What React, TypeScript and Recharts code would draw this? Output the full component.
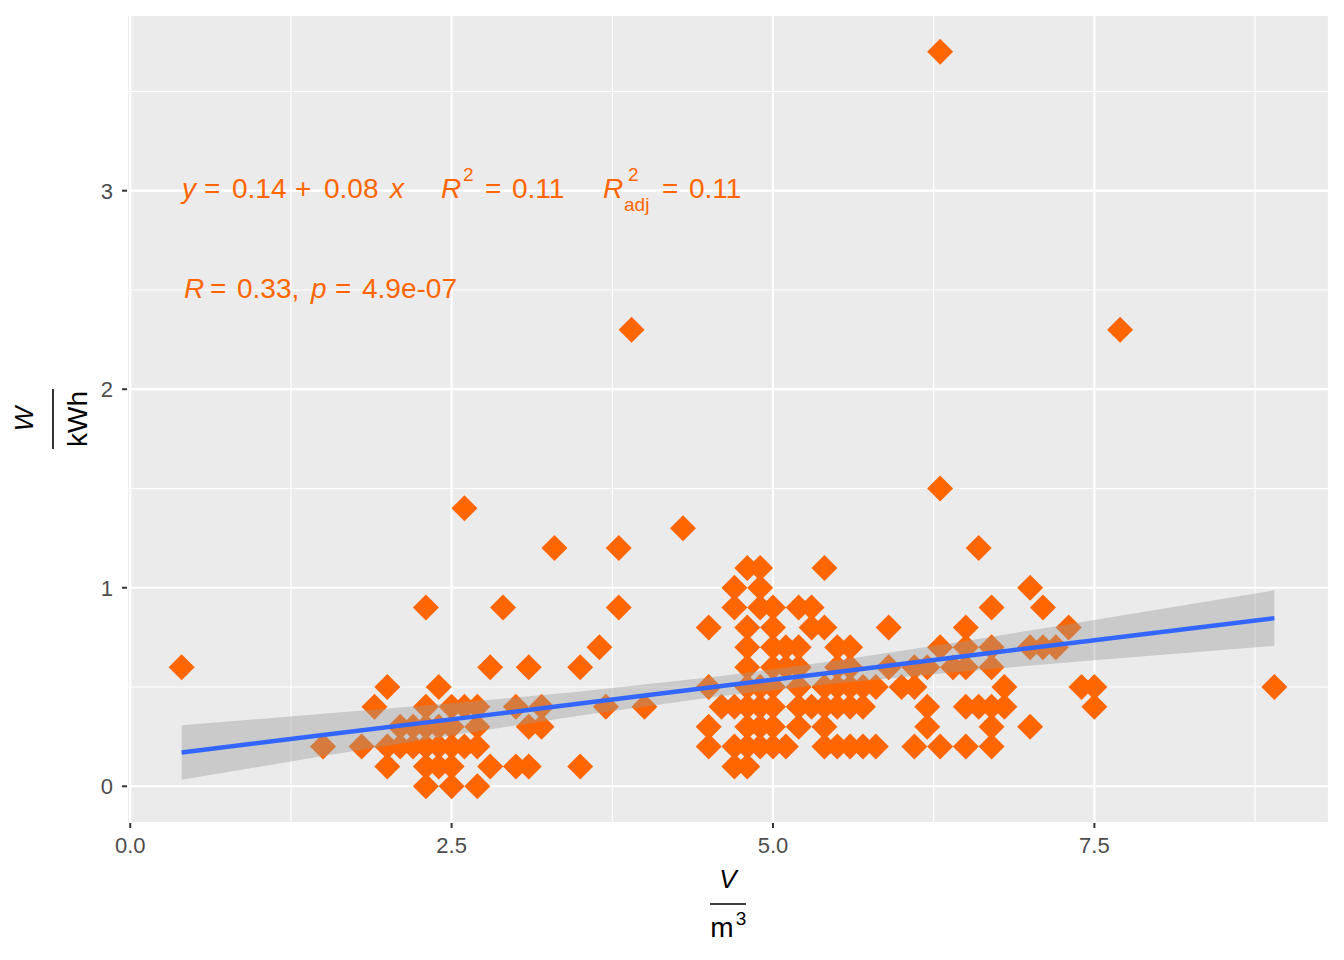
import React from "react";
import {
  ComposedChart,
  Scatter,
  Line,
  Area,
  XAxis,
  YAxis,
  CartesianGrid,
} from "recharts";

// volume (m3) and energy (kWh) readings, one pair per point
const volume = [
  0.4, 1.5, 1.8, 1.9, 2.0, 2.0, 2.0, 2.1, 2.1, 2.2, 2.2,
  2.3, 2.3, 2.3, 2.3, 2.3, 2.3, 2.4, 2.4, 2.4, 2.4,
  2.5, 2.5, 2.5, 2.5, 2.5, 2.6, 2.6, 2.6, 2.7, 2.7, 2.7, 2.7,
  2.8, 2.8, 2.9, 3.0, 3.0, 3.1, 3.1, 3.1, 3.2, 3.2, 3.3,
  3.5, 3.5, 3.65, 3.7, 3.8, 3.8, 3.9, 4.0, 4.3,
  4.5, 4.5, 4.5, 4.5, 4.6, 4.7, 4.7, 4.7, 4.7, 4.7,
  4.8, 4.8, 4.8, 4.8, 4.8, 4.8, 4.8, 4.8, 4.8,
  4.9, 4.9, 4.9, 4.9, 4.9, 4.9, 4.9,
  5.0, 5.0, 5.0, 5.0, 5.0, 5.0, 5.0, 5.0,
  5.1, 5.1, 5.1, 5.2, 5.2, 5.2, 5.2, 5.2, 5.2,
  5.3, 5.3, 5.3, 5.4, 5.4, 5.4, 5.4, 5.4, 5.4,
  5.5, 5.5, 5.5, 5.5, 5.5, 5.6, 5.6, 5.6, 5.6, 5.6,
  5.7, 5.7, 5.7, 5.8, 5.8, 5.9, 5.9, 6.0, 6.1, 6.1, 6.1,
  6.2, 6.2, 6.2, 6.3, 6.3, 6.3, 6.3, 6.4,
  6.5, 6.5, 6.5, 6.5, 6.5, 6.6, 6.6,
  6.7, 6.7, 6.7, 6.7, 6.7, 6.7, 6.8, 6.8,
  7.0, 7.0, 7.0, 7.1, 7.1, 7.2, 7.3, 7.4, 7.5, 7.5, 7.7, 8.9,
];
const energy = [
  0.6, 0.2, 0.2, 0.4, 0.5, 0.2, 0.1, 0.3, 0.2, 0.3, 0.2,
  0.9, 0.4, 0.3, 0.2, 0.1, 0.0, 0.5, 0.3, 0.2, 0.1,
  0.4, 0.3, 0.2, 0.1, 0.0, 1.4, 0.4, 0.2, 0.4, 0.3, 0.2, 0.0,
  0.6, 0.1, 0.9, 0.4, 0.1, 0.6, 0.3, 0.1, 0.4, 0.3, 1.2,
  0.6, 0.1, 0.7, 0.4, 1.2, 0.9, 2.3, 0.4, 1.3,
  0.8, 0.5, 0.3, 0.2, 0.4, 1.0, 0.9, 0.4, 0.2, 0.1,
  1.1, 0.8, 0.7, 0.6, 0.5, 0.4, 0.3, 0.2, 0.1,
  1.1, 1.0, 0.9, 0.5, 0.4, 0.3, 0.2,
  0.9, 0.8, 0.7, 0.6, 0.5, 0.4, 0.3, 0.2,
  0.7, 0.6, 0.2, 0.9, 0.7, 0.6, 0.5, 0.4, 0.3,
  0.9, 0.8, 0.4, 1.1, 0.8, 0.5, 0.4, 0.3, 0.2,
  0.7, 0.6, 0.5, 0.4, 0.2, 0.7, 0.6, 0.5, 0.4, 0.2,
  0.5, 0.4, 0.2, 0.5, 0.2, 0.8, 0.6, 0.5, 0.6, 0.5, 0.2,
  0.6, 0.4, 0.3, 3.7, 1.5, 0.7, 0.2, 0.6,
  0.8, 0.7, 0.6, 0.4, 0.2, 1.2, 0.4,
  0.9, 0.7, 0.6, 0.4, 0.3, 0.2, 0.5, 0.4,
  1.0, 0.7, 0.3, 0.9, 0.7, 0.7, 0.8, 0.5, 0.5, 0.4, 2.3, 0.5,
];

// lm fit and its 95% band
const fitX = [0.4, 1.5, 2.5, 3.5, 4.6, 5.5, 6.5, 7.5, 8.9];
const fitY = [0.17, 0.258, 0.337, 0.417, 0.505, 0.576, 0.656, 0.736, 0.847];
const fitLow = [0.033, 0.152, 0.256, 0.357, 0.455, 0.519, 0.58, 0.635, 0.707];
const fitHigh = [0.307, 0.365, 0.418, 0.477, 0.555, 0.633, 0.732, 0.837, 0.987];

const xTicks = [0, 2.5, 5, 7.5];
const yTicks = [0, 1, 2, 3];
const xMinor = [1.25, 3.75, 6.25, 8.75];
const yMinor = [0.5, 1.5, 2.5, 3.5];
const xDomain = [-0.025, 9.325];
const yDomain = [-0.185, 3.885];

const points = volume.map((x, i) => ({ x, y: energy[i] }));
const fitRows = fitX.map((x, i) => ({
  x,
  fit: fitY[i],
  band: [fitLow[i], fitHigh[i]],
}));

const font = "'Liberation Sans', Arial, Helvetica, sans-serif";
const orange = "#FF6600";

const Diamond = (props: any) => {
  const { cx, cy } = props;
  if (cx == null || cy == null) return null;
  const r = 13;
  return (
    <polygon
      points={`${cx},${cy - r} ${cx + r},${cy} ${cx},${cy + r} ${cx - r},${cy}`}
      fill={orange}
    />
  );
};

const minorX = ({ xAxis, offset }: any) =>
  xMinor.map((v) =>
    xAxis && typeof xAxis.scale === "function"
      ? xAxis.scale(v)
      : offset.left + ((v - xDomain[0]) / (xDomain[1] - xDomain[0])) * offset.width
  );

const minorY = ({ yAxis, offset }: any) =>
  yMinor.map((v) =>
    yAxis && typeof yAxis.scale === "function"
      ? yAxis.scale(v)
      : offset.top + ((yDomain[1] - v) / (yDomain[1] - yDomain[0])) * offset.height
  );

export default function App() {
  return (
    <div style={{ position: "absolute", left: 0, top: 0, width: 1344, height: 960, background: "#fff" }}>
      <ComposedChart
        width={1344}
        height={960}
        data={fitRows}
        margin={{ top: 15, right: 15, left: 0, bottom: 0 }}
      >
        <CartesianGrid
          fill="#EBEBEB"
          stroke="#FFFFFF"
          strokeWidth={1.1}
          verticalCoordinatesGenerator={minorX}
          horizontalCoordinatesGenerator={minorY}
        />
        <CartesianGrid stroke="#FFFFFF" strokeWidth={2.2} />
        <XAxis
          type="number"
          dataKey="x"
          domain={xDomain}
          allowDataOverflow
          ticks={xTicks}
          tickFormatter={(v) => v.toFixed(1)}
          height={137}
          axisLine={false}
          tickSize={5}
          tickMargin={9}
          tickLine={{ stroke: "#333333", strokeWidth: 2 }}
          tick={{ fill: "#4D4D4D", fontSize: 22, fontFamily: font }}
        />
        <YAxis
          type="number"
          dataKey="y"
          domain={yDomain}
          allowDataOverflow
          ticks={yTicks}
          width={127}
          axisLine={false}
          tickSize={5}
          tickMargin={9}
          tickLine={{ stroke: "#333333", strokeWidth: 2 }}
          tick={{ fill: "#4D4D4D", fontSize: 22, fontFamily: font }}
        />
        <Scatter data={points} dataKey="y" shape={<Diamond />} isAnimationActive={false} />
        <Area
          type="linear"
          dataKey="band"
          stroke="none"
          fill="#999999"
          fillOpacity={0.4}
          isAnimationActive={false}
          zIndex={650}
        />
        <Line
          type="linear"
          dataKey="fit"
          stroke="#3366FF"
          strokeWidth={4.5}
          dot={false}
          activeDot={false}
          isAnimationActive={false}
          zIndex={700}
        />
      </ComposedChart>

      <svg
        width={1344}
        height={960}
        style={{ position: "absolute", left: 0, top: 0, pointerEvents: "none" }}
        fontFamily={font}
      >
        {/* stats annotation */}
        <text y={198} fill={orange} fontSize={28}>
          <tspan x={182} fontStyle="italic">y</tspan>
          <tspan x={204}>=</tspan>
          <tspan x={232}>0.14</tspan>
          <tspan x={295}>+</tspan>
          <tspan x={324}>0.08</tspan>
          <tspan x={390} fontStyle="italic">x</tspan>
          <tspan x={441} fontStyle="italic">R</tspan>
          <tspan x={485}>=</tspan>
          <tspan x={512}>0.11</tspan>
          <tspan x={603} fontStyle="italic">R</tspan>
          <tspan x={662}>=</tspan>
          <tspan x={689}>0.11</tspan>
        </text>
        <text x={463} y={181} fill={orange} fontSize={19}>2</text>
        <text x={628} y={181} fill={orange} fontSize={19}>2</text>
        <text x={624} y={211} fill={orange} fontSize={19}>adj</text>
        <text y={298} fill={orange} fontSize={28}>
          <tspan x={184} fontStyle="italic">R</tspan>
          <tspan x={210}>=</tspan>
          <tspan x={237}>0.33,</tspan>
          <tspan x={311} fontStyle="italic">p</tspan>
          <tspan x={335}>=</tspan>
          <tspan x={362}>4.9e-07</tspan>
        </text>

        {/* x axis title: V / m3 */}
        <text x={728} y={888} textAnchor="middle" fontSize={26} fontStyle="italic" fill="#000">V</text>
        <line x1={710} x2={746} y1={904} y2={904} stroke="#000" strokeWidth={1.6} />
        <text x={722} y={937} textAnchor="middle" fontSize={28} fill="#000">m</text>
        <text x={741} y={925} textAnchor="middle" fontSize={19} fill="#000">3</text>

        {/* y axis title: W / kWh */}
        <g transform="translate(0,419) rotate(-90)">
          <text x={0} y={33} textAnchor="middle" fontSize={26} fontStyle="italic" fill="#000">W</text>
          <line x1={-30} x2={30} y1={53} y2={53} stroke="#000" strokeWidth={1.6} />
          <text x={0} y={87} textAnchor="middle" fontSize={28} fill="#000">kWh</text>
        </g>
      </svg>
    </div>
  );
}
